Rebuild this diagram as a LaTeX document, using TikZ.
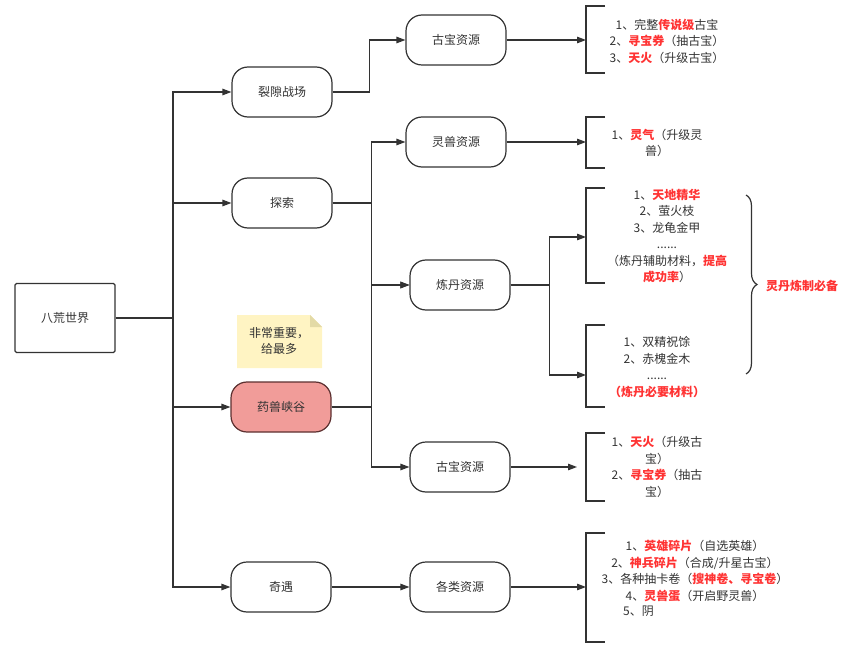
\documentclass[tikz,border=0pt]{standalone}
\usepackage{fontspec}
\setmainfont{Noto Sans CJK SC}
\usetikzlibrary{arrows.meta,decorations.pathreplacing}
\definecolor{ln}{HTML}{333333}
\definecolor{txt}{HTML}{333333}
\definecolor{hot}{HTML}{FF3333}
\definecolor{pink}{HTML}{F19C99}
\definecolor{pinkline}{HTML}{5C3030}
\definecolor{notefill}{HTML}{FFF4C3}
\definecolor{notefold}{HTML}{E3DAA6}
\newcommand{\hl}[1]{{\color{hot}\bfseries #1}}
\begin{document}
\begin{tikzpicture}[x=1pt,y=-1pt,
  every node/.style={font=\fontsize{12}{16.5}\selectfont, text=txt},
  box/.style={draw=ln, line width=1.2pt, rounded corners=16pt, minimum width=100pt, minimum height=50pt, inner sep=0pt, fill=white},
  rootbox/.style={draw=ln, line width=1.2pt, rounded corners=1.5pt, minimum width=100pt, minimum height=69pt, inner sep=0pt},
  hotbox/.style={box, fill=pink, draw=pinkline},
  arr/.style={draw=ln, line width=1.2pt, -{Triangle[length=9pt,width=6.5pt]}},
  con/.style={draw=ln, line width=1.2pt},
  brk/.style={draw=ln, line width=1.3pt},
  lst/.style={align=center, inner sep=0pt}]
\useasboundingbox (0,0) rectangle (857,655);

% level 0
\node[rootbox] (root) at (65,318) {八荒世界};
% level 1
\node[box] (n1) at (282,92) {裂隙战场};
\node[box] (n2) at (282,203) {探索};
\node[hotbox] (n3) at (281,407) {药兽峡谷};
\node[box] (n4) at (281,587) {奇遇};
% level 2
\node[box] (g1) at (456,40) {古宝资源};
\node[box] (g2) at (456,142) {灵兽资源};
\node[box] (ld) at (460,285) {炼丹资源};
\node[box] (g3) at (460,467) {古宝资源};
\node[box] (g4) at (460,587) {各类资源};

% note
\fill[notefill] (237,315) -- (310,315) -- (322,327) -- (322,368) -- (237,368) -- cycle;
\fill[notefold] (310,315) -- (322,327) -- (310,327) -- cycle;
\node[lst] (note) at (279,341) {非常重要，\\给最多};

% trunk
\coordinate (tr) at (173,318);
\draw[con] (root.east) -- (tr);
\draw[arr] (tr) |- (n1.west);
\draw[arr] (tr) |- (n2.west);
\draw[arr] (tr) |- (n3.west);
\draw[arr] (tr) |- (n4.west);

% level 1 -> level 2
\draw[arr] (n1.east) -- ++(37,0) |- (g1.west);
\draw[arr] (n2.east) -- ++(39,0) |- (g2.west);
\draw[arr] (n2.east) -- ++(39,0) |- (ld.west);
\draw[arr] (n3.east) -- ++(40,0) |- (ld.west);
\draw[arr] (n3.east) -- ++(40,0) |- (g3.west);
\draw[arr] (n4.east) -- (g4.west);

% bracket end points
\coordinate (b1) at (586,40);
\coordinate (b2) at (586,142);
\coordinate (b3) at (586,237);
\coordinate (b4) at (586,375);
\coordinate (b5) at (577,467);
\coordinate (b6) at (586,587);

\draw[arr] (g1.east) -- (b1);
\draw[arr] (g2.east) -- (b2);
\draw[arr] (ld.east) -- ++(39,0) |- (b3);
\draw[arr] (ld.east) -- ++(39,0) |- (b4);
\draw[arr] (g3.east) -- (b5);
\draw[arr] (g4.east) -- (b6);

% brackets
\draw[brk] (605,6) -- (586,6) -- (586,73) -- (605,73);
\draw[brk] (605,117) -- (586,117) -- (586,168) -- (605,168);
\draw[brk] (605,188) -- (586,188) -- (586,283) -- (605,283);
\draw[brk] (605,325) -- (586,325) -- (586,407) -- (605,407);
\draw[brk] (605,433) -- (586,433) -- (586,501) -- (605,501);
\draw[brk] (605,533) -- (586,533) -- (586,642) -- (605,642);

% bracket texts
\node[lst] (t1) at (667,41) {1、完整\hl{传说级}古宝\\2、\hl{寻宝券}（抽古宝）\\3、\hl{天火}（升级古宝）};
\node[lst] (t2) at (657,143) {1、\hl{灵气}（升级灵\\兽）};
\node[lst] (t3) at (667,236) {1、\hl{天地精华}\\2、萤火枝\\3、龙龟金甲\\......\\（炼丹辅助材料，\hl{提高}\\\hl{成功率}）};
\node[lst] (t4) at (657,367) {1、双精祝馀\\2、赤槐金木\\......\\\hl{（炼丹必要材料）}};
\node[lst] (t5) at (657,467) {1、\hl{天火}（升级古\\宝）\\2、\hl{寻宝券}（抽古\\宝）};
\node[lst] (t6) at (695,571) {1、\hl{英雄碎片}（自选英雄）\\2、\hl{神兵碎片}（合成/升星古宝）\\3、各种抽卡卷（\hl{搜神卷、寻宝卷}）\\4、\hl{灵兽蛋}（开启野灵兽）};
\node[anchor=west, inner sep=0pt] (t7) at (623,611) {5、阴};

% big brace
\draw[con, decorate, decoration={brace, amplitude=11pt, raise=0pt}] (746,195) -- (746,374);
\node[anchor=west, inner sep=0pt] (lbl) at (766,286) {\hl{灵丹炼制必备}};
\end{tikzpicture}
\end{document}
